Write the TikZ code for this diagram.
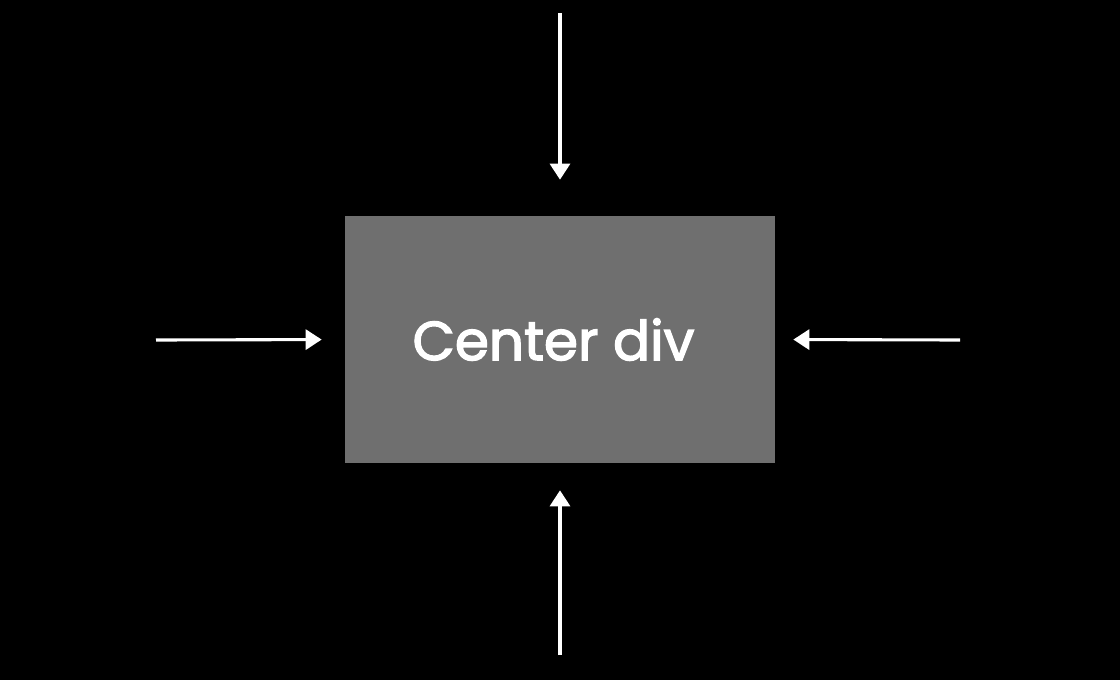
\documentclass[tikz,border=0pt]{standalone}
\usepackage{fontspec}
\setmainfont{Poppins}
\newfontfamily\boxfont{Poppins}[FakeBold=2.5]
\usetikzlibrary{arrows.meta}
\definecolor{boxgray}{HTML}{6F6F6F}

\begin{document}
\begin{tikzpicture}[x=0.025cm,y=-0.025cm]
\fill[black] (0, 0) rectangle (1120, 680);
\useasboundingbox (0, 0) rectangle (1120, 680);
\node[fill=boxgray,minimum width=10.75cm,minimum height=6.175cm,inner sep=0pt,
	text=white,font=\boxfont\fontsize{39}{44}\selectfont] (centerbox) at (560, 339.5) {Center div\kern0.325cm};
\coordinate (topin) at (560, 13);
\coordinate (botin) at (560, 655);
\coordinate (leftin) at (156, 340);
\coordinate (rightin) at (960, 340);
\begin{scope}[>={Triangle[length=0.4cm,width=0.5cm]}, every edge/.style={draw=white,line width=2.2pt}]
	\path [->] (topin) edge[shorten >=0.9cm] (centerbox.north);
	\path [->] (botin) edge[shorten >=0.675cm] (centerbox.south);
	\path [->] (leftin) edge[shorten >=0.575cm] (centerbox.west);
	\path [->] (rightin) edge[shorten >=0.45cm] (centerbox.east);
\end{scope}
\end{tikzpicture}
\end{document}
